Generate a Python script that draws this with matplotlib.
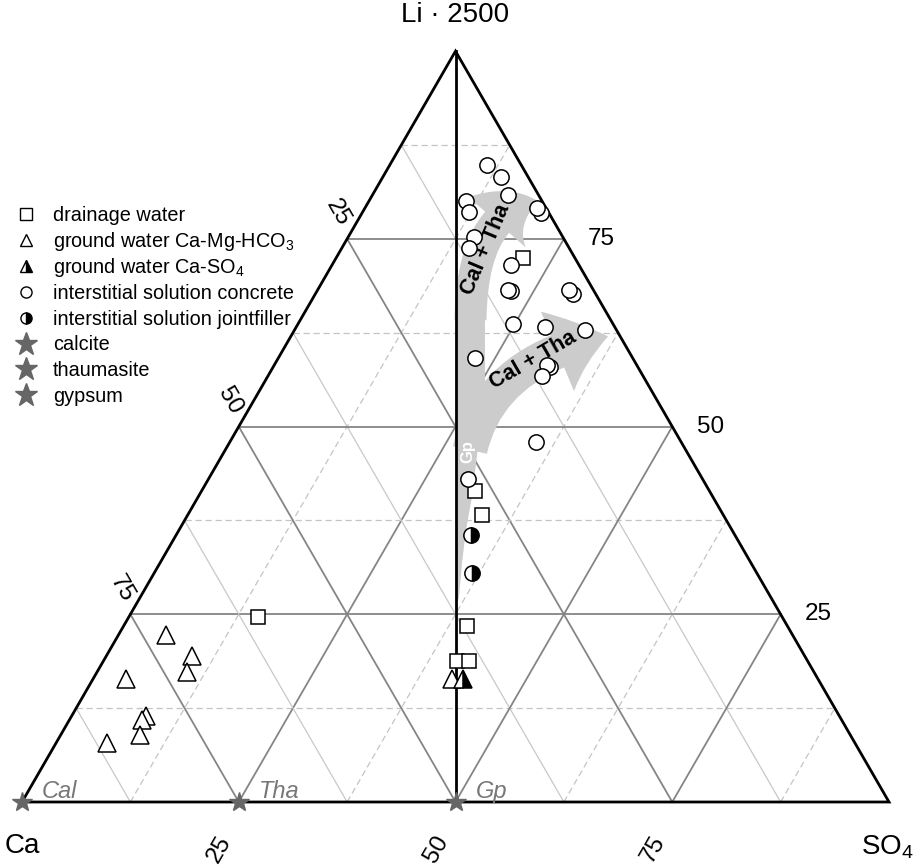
import numpy as np
import matplotlib
matplotlib.use('Agg')
import matplotlib.pyplot as plt
from matplotlib.patches import FancyArrowPatch, Polygon
from matplotlib.path import Path

plt.rcParams['font.family'] = ['Liberation Sans', 'DejaVu Sans']
plt.rcParams['mathtext.fontset'] = 'custom'
plt.rcParams['mathtext.rm'] = 'Liberation Sans'
plt.rcParams['mathtext.it'] = 'Liberation Sans:italic'
plt.rcParams['mathtext.bf'] = 'Liberation Sans:bold'

# compositions in % of (Li*2500 + Ca + SO4)
drain_li = [72.5, 41.4, 38.2, 23.4, 18.8, 18.8, 24.7]
drain_ca = [6.0, 27.1, 27.8, 37.0, 40.4, 39.1, 60.4]
drain_so4 = [21.5, 31.5, 34.0, 39.6, 40.8, 42.1, 14.9]

hco3_li = [22.2, 19.5, 17.3, 16.4, 11.4, 10.9, 8.9, 7.8, 16.4]
hco3_ca = [72.3, 70.6, 72.3, 79.8, 80.0, 80.7, 81.9, 86.3, 42.2]
hco3_so4 = [5.5, 9.9, 10.4, 3.8, 8.6, 8.4, 9.2, 5.9, 41.4]

caso4_li = [16.4]
caso4_ca = [40.9]
caso4_so4 = [42.7]

conc_li = [84.9, 83.2, 80.9, 80.1, 78.6, 78.5, 79.1, 75.2, 73.8, 71.5, 68.0, 68.2,
           67.6, 68.2, 63.6, 63.2, 62.9, 59.2, 57.9, 58.2, 56.8, 47.9, 43.0]
conc_ca = [3.9, 3.2, 3.5, 8.7, 9.2, 0.9, 1.0, 10.3, 11.5, 7.8, 9.6, 9.8,
           2.7, 2.8, 11.6, 8.1, 3.6, 18.2, 10.1, 10.4, 11.6, 16.8, 27.1]
conc_so4 = [11.2, 13.6, 15.6, 11.2, 12.2, 20.6, 19.9, 14.5, 14.7, 20.7, 22.4, 22.0,
            29.7, 29.0, 24.8, 28.7, 33.5, 22.6, 32.0, 31.4, 31.6, 35.3, 29.9]

joint_li = [35.6, 30.5]
joint_ca = [30.4, 32.9]
joint_so4 = [34.0, 36.6]

minerals = ['Cal', 'Tha', 'Gp']
mineral_li = [0, 0, 0]
mineral_ca = [100, 75, 50]
mineral_so4 = [0, 25, 50]

ticks = [25, 50, 75]

H = np.sqrt(3) / 2
GREY = '#666666'


def tern(li, ca, so4):
    li = np.asarray(li, float)
    ca = np.asarray(ca, float)
    so4 = np.asarray(so4, float)
    tot = li + ca + so4
    l = 100 * li / tot
    s = 100 * so4 / tot
    return s + l / 2, l * H


def xy(li, so4):
    return so4 + li / 2, li * H


fig = plt.figure(figsize=(9.23, 8.66), dpi=100)
ax = fig.add_axes([0, 0, 1, 1])
ax.set_xlim(-22 / 8.67, 901 / 8.67)
ax.set_ylim(-64 / 8.67, 802 / 8.67)
ax.axis('off')

# grid: 25 % steps dark, 12.5 % steps light (Ca solid, Li/SO4 dashed)
for v in np.arange(12.5, 100, 12.5):
    major = v % 25 == 0
    segs = {
        'li': (xy(v, 0), xy(v, 100 - v)),
        'so4': (xy(0, v), xy(100 - v, v)),
        'ca': (xy(100 - v, 0), xy(0, 100 - v)),
    }
    for kind, (a, b) in segs.items():
        if major:
            kw = dict(color='#858585', lw=1.3, ls='-')
        elif kind == 'ca':
            kw = dict(color='#c8c8c8', lw=0.9, ls='-')
        else:
            kw = dict(color='#c4c4c4', lw=0.9, ls=(0, (5, 3)))
        ax.plot([a[0], b[0]], [a[1], b[1]], zorder=1, **kw)

# reaction path arrows
band = '#cccccc'
trunk = [(50.0, 22.15), (50.40, 23.64), (50.75, 27.57), (51.21, 31.37),
         (51.90, 35.18), (52.60, 40.95), (53.06, 42.91), (53.40, 46.37),
         (53.40, 57.90), (50.0, 57.90)]
ax.add_patch(Polygon(trunk, closed=True, fc=band, ec='none', zorder=2))

codes = [Path.MOVETO, Path.CURVE3, Path.CURVE3]
up = Path([(51.73, 55.59), (51.9, 68.3), (59.5, 69.3)], codes)
ax.add_patch(FancyArrowPatch(path=up, fc=band, ec='none', zorder=2,
                             arrowstyle='simple,head_length=33,head_width=55,tail_width=23'))
low = Path([(51.67, 40.60), (53.98, 50.98), (67.6, 53.7)], codes)
ax.add_patch(FancyArrowPatch(path=low, fc=band, ec='none', zorder=2,
                             arrowstyle='simple,head_length=38,head_width=62,tail_width=25'))

ax.text(53.5, 63.67, 'Cal + Tha', rotation=67, ha='center', va='center',
        fontsize=15.5, fontweight='bold', zorder=3)
ax.text(58.93, 50.98, 'Cal + Tha', rotation=30, ha='center', va='center',
        fontsize=15.5, fontweight='bold', zorder=3)
ax.text(51.4, 40.4, 'Gp', rotation=90, ha='center', va='center',
        fontsize=12, fontweight='bold', color='white', zorder=3)

# frame and Ca = SO4 line
ax.plot([0, 100, 50, 0], [0, 0, 100 * H, 0], color='black', lw=2.0,
        solid_joinstyle='miter', zorder=3)
ax.plot([50, 50], [0, 100 * H], color='black', lw=2.0, zorder=3)

# axis labels
for t in ticks:
    x, y = xy(100 - t, 0)
    ax.text(x - 1.04, y + 3.0, str(t), rotation=-60, ha='center', va='center', fontsize=17.5)
    x, y = xy(t, 100 - t)
    ax.text(x + 2.8, y, str(t), ha='left', va='center', fontsize=17.5)
    x, y = xy(0, t)
    ax.text(x - 2.19, y - 5.42, str(t), rotation=60, ha='center', va='center', fontsize=17.5)

ax.text(50, 90.8, 'Li · 2500', ha='center', va='center', fontsize=20)
ax.text(0.0, -5.1, 'Ca', ha='center', va='center', fontsize=20)
ax.text(99.8, -5.2, 'SO$_4$', ha='center', va='center', fontsize=20)

# samples
mk = dict(ls='none', mec='black', mew=1.1, zorder=4, clip_on=False)
x, y = tern(hco3_li, hco3_ca, hco3_so4)
ax.plot(x, y, '^', ms=12.5, mfc='white', **mk)
x, y = tern(caso4_li, caso4_ca, caso4_so4)
ax.plot(x, y, '^', ms=12.5, fillstyle='right', mfc='black', mfcalt='white', **mk)
x, y = tern(drain_li, drain_ca, drain_so4)
ax.plot(x, y, 's', ms=10, mfc='white', **mk)
x, y = tern(joint_li, joint_ca, joint_so4)
ax.plot(x, y, 'o', ms=11, fillstyle='right', mfc='black', mfcalt='white', **mk)
x, y = tern(conc_li, conc_ca, conc_so4)
ax.plot(x, y, 'o', ms=11, mfc='white', **mk)

x, y = tern(mineral_li, mineral_ca, mineral_so4)
ax.plot(x, y, '*', ms=15, color=GREY, mec=GREY, ls='none', zorder=5, clip_on=False)
for name, xi, yi in zip(minerals, x, y):
    ax.text(xi + 2.3, yi + 0.5, name, ha='left', va='baseline', fontsize=17,
            style='italic', color='#777777')

# legend
entries = [
    ('drainage water', dict(marker='s', ms=8, mfc='white')),
    ('ground water Ca-Mg-HCO$_3$', dict(marker='^', ms=9, mfc='white')),
    ('ground water Ca-SO$_4$', dict(marker='^', ms=9, fillstyle='right', mfc='black', mfcalt='white')),
    ('interstitial solution concrete', dict(marker='o', ms=8, mfc='white')),
    ('interstitial solution jointfiller', dict(marker='o', ms=8, fillstyle='right', mfc='black', mfcalt='white')),
    ('calcite', dict(marker='*', ms=17, mfc=GREY, mec=GREY)),
    ('thaumasite', dict(marker='*', ms=17, mfc=GREY, mec=GREY)),
    ('gypsum', dict(marker='*', ms=17, mfc=GREY, mec=GREY)),
]
for i, (label, style) in enumerate(entries):
    yy = 1 - (214 + 25.9 * i) / 866
    style.setdefault('mec', 'black')
    ax.plot([26 / 923], [yy], ls='none', mew=1.0, transform=fig.transFigure,
            clip_on=False, **style)
    fig.text(53 / 923, yy - 0.008, label, ha='left', va='baseline', fontsize=14.3)

fig.savefig('out.png', dpi=100)
